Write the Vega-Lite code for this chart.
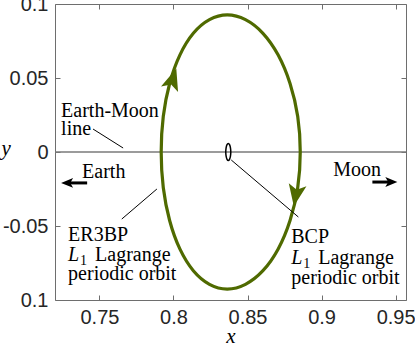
{
  "$schema": "https://vega.github.io/schema/vega-lite/v6.json",
  "width": 351,
  "height": 296,
  "autosize": {"type": "none"},
  "padding": {"left": 55, "top": 4, "right": 9, "bottom": 50},
  "background": "white",
  "config": {
    "view": {"stroke": "#6e6e6e", "strokeWidth": 1},
    "axis": {"grid": false, "domain": false, "tickColor": "#6e6e6e", "tickSize": -5, "tickWidth": 1,
      "labelFont": "Liberation Sans", "labelFontSize": 20, "labelColor": "#262626",
      "titleFont": "Liberation Serif", "titleFontStyle": "italic", "titleFontWeight": "normal", "titleFontSize": 21, "titleColor": "#000000"}
  },
  "datasets": {
    "orbit": [
      {"i": 0, "x": 0.8856, "y": 0}, {"i": 1, "x": 0.8839, "y": 0.0240}, {"i": 2, "x": 0.8787, "y": 0.0463},
      {"i": 3, "x": 0.8707, "y": 0.0655}, {"i": 4, "x": 0.8604, "y": 0.0802}, {"i": 5, "x": 0.8486, "y": 0.0894},
      {"i": 6, "x": 0.8363, "y": 0.0926}, {"i": 7, "x": 0.8243, "y": 0.0894}, {"i": 8, "x": 0.8134, "y": 0.0802},
      {"i": 9, "x": 0.8043, "y": 0.0655}, {"i": 10, "x": 0.7974, "y": 0.0463}, {"i": 11, "x": 0.7931, "y": 0.0240},
      {"i": 12, "x": 0.7917, "y": 0}, {"i": 13, "x": 0.7931, "y": -0.0240}, {"i": 14, "x": 0.7974, "y": -0.0463},
      {"i": 15, "x": 0.8043, "y": -0.0655}, {"i": 16, "x": 0.8134, "y": -0.0802}, {"i": 17, "x": 0.8243, "y": -0.0894},
      {"i": 18, "x": 0.8363, "y": -0.0926}, {"i": 19, "x": 0.8486, "y": -0.0894}, {"i": 20, "x": 0.8604, "y": -0.0802},
      {"i": 21, "x": 0.8707, "y": -0.0655}, {"i": 22, "x": 0.8787, "y": -0.0463}, {"i": 23, "x": 0.8839, "y": -0.0240}
    ],
    "bcp": [
      {"i": 0, "x": 0.8387, "y": 0}, {"i": 1, "x": 0.83847, "y": 0.00285}, {"i": 2, "x": 0.83785, "y": 0.00494},
      {"i": 3, "x": 0.8370, "y": 0.0057}, {"i": 4, "x": 0.83615, "y": 0.00494}, {"i": 5, "x": 0.83553, "y": 0.00285},
      {"i": 6, "x": 0.8353, "y": 0}, {"i": 7, "x": 0.83553, "y": -0.00285}, {"i": 8, "x": 0.83615, "y": -0.00494},
      {"i": 9, "x": 0.8370, "y": -0.0057}, {"i": 10, "x": 0.83785, "y": -0.00494}, {"i": 11, "x": 0.83847, "y": -0.00285}
    ],
    "heads": [
      {"x": 0.7995, "y": 0.0490, "dir": "up"},
      {"x": 0.8826, "y": -0.0290, "dir": "down"},
      {"x": 0.72838, "y": -0.0209, "dir": "left"},
      {"x": 0.94689, "y": -0.0203, "dir": "right"}
    ],
    "shafts": [
      {"x": 0.7275, "x2": 0.7417, "y": -0.0209},
      {"x": 0.9343, "x2": 0.9469, "y": -0.0203}
    ],
    "leaders": [
      {"x": 0.7457, "y": 0.0155, "x2": 0.7660, "y2": 0.0027},
      {"x": 0.7651, "y": -0.0453, "x2": 0.7888, "y2": -0.0250},
      {"x": 0.8390, "y": -0.0054, "x2": 0.8843, "y2": -0.0439}
    ],
    "labels": [
      {"x": 0.72412, "y": 0.02365, "t": "Earth-Moon"},
      {"x": 0.72412, "y": 0.01149, "t": "line"},
      {"x": 0.73831, "y": -0.01757, "t": "Earth"},
      {"x": 0.9079, "y": -0.01622, "t": "Moon"},
      {"x": 0.72885, "y": -0.06014, "t": "ER3BP"},
      {"x": 0.72885, "y": -0.08649, "t": "periodic orbit"},
      {"x": 0.87953, "y": -0.06149, "t": "BCP"},
      {"x": 0.87953, "y": -0.08919, "t": "periodic orbit"}
    ],
    "lrows": [
      {"x": 0.72885, "y": -0.07365},
      {"x": 0.87953, "y": -0.07568}
    ]
  },
  "layer": [
    {
      "data": {"values": [{"y": 0}]},
      "mark": {"type": "rule", "color": "#7a7a7a", "strokeWidth": 1.3},
      "encoding": {"y": {"field": "y", "type": "quantitative", "axis": null, "scale": {"domain": [-0.1, 0.1], "nice": false, "zero": false}}}
    },
    {
      "data": {"name": "bcp"},
      "mark": {"type": "line", "interpolate": "cardinal-closed", "color": "#000000", "strokeWidth": 1.5},
      "encoding": {
        "x": {"field": "x", "type": "quantitative", "axis": null},
        "y": {"field": "y", "type": "quantitative", "axis": null},
        "order": {"field": "i"}
      }
    },
    {
      "data": {"name": "orbit"},
      "mark": {"type": "line", "interpolate": "cardinal-closed", "color": "#4f6a00", "strokeWidth": 3.2},
      "encoding": {
        "x": {"field": "x", "type": "quantitative",
          "scale": {"domain": [0.72, 0.957], "nice": false, "zero": false},
          "axis": {"orient": "bottom", "values": [0.75, 0.8, 0.85, 0.9, 0.95], "labelExpr": "toString(datum.value)", "labelPadding": 12, "title": "x", "titleY": 42, "titleBaseline": "alphabetic"}},
        "y": {"field": "y", "type": "quantitative",
          "scale": {"domain": [-0.1, 0.1], "nice": false, "zero": false},
          "axis": {"orient": "left", "values": [-0.1, -0.05, 0, 0.05, 0.1], "labelExpr": "datum.value == -0.1 ? '0.1' : toString(datum.value)", "labelPadding": 12, "title": "y", "titleAngle": 0, "titleX": -54, "titleY": 150, "titleAlign": "left", "titleBaseline": "alphabetic"}},
        "order": {"field": "i"}
      }
    },
    {
      "data": {"name": "heads"},
      "transform": [{"filter": "datum.dir == 'up'"}],
      "mark": {"type": "point", "shape": "M0,-1L0.78,0.9L0,0.45L-0.78,0.9Z", "size": 529, "angle": 18, "filled": true, "color": "#4f6a00", "opacity": 1, "strokeWidth": 0},
      "encoding": {"x": {"field": "x", "type": "quantitative", "axis": null}, "y": {"field": "y", "type": "quantitative", "axis": null}}
    },
    {
      "data": {"name": "heads"},
      "transform": [{"filter": "datum.dir == 'down'"}],
      "mark": {"type": "point", "shape": "M0,-1L0.78,0.9L0,0.45L-0.78,0.9Z", "size": 529, "angle": 190, "filled": true, "color": "#4f6a00", "opacity": 1, "strokeWidth": 0},
      "encoding": {"x": {"field": "x", "type": "quantitative", "axis": null}, "y": {"field": "y", "type": "quantitative", "axis": null}}
    },
    {
      "data": {"name": "heads"},
      "transform": [{"filter": "datum.dir == 'left'"}],
      "mark": {"type": "point", "shape": "M0,-1L0.78,0.9L0,0.45L-0.78,0.9Z", "size": 160, "angle": 270, "filled": true, "color": "#000000", "opacity": 1, "strokeWidth": 0},
      "encoding": {"x": {"field": "x", "type": "quantitative", "axis": null}, "y": {"field": "y", "type": "quantitative", "axis": null}}
    },
    {
      "data": {"name": "heads"},
      "transform": [{"filter": "datum.dir == 'right'"}],
      "mark": {"type": "point", "shape": "M0,-1L0.78,0.9L0,0.45L-0.78,0.9Z", "size": 160, "angle": 90, "filled": true, "color": "#000000", "opacity": 1, "strokeWidth": 0},
      "encoding": {"x": {"field": "x", "type": "quantitative", "axis": null}, "y": {"field": "y", "type": "quantitative", "axis": null}}
    },
    {
      "data": {"name": "shafts"},
      "mark": {"type": "rule", "color": "#000000", "strokeWidth": 3},
      "encoding": {
        "x": {"field": "x", "type": "quantitative", "axis": null},
        "x2": {"field": "x2"},
        "y": {"field": "y", "type": "quantitative", "axis": null}
      }
    },
    {
      "data": {"name": "leaders"},
      "mark": {"type": "rule", "color": "#000000", "strokeWidth": 1},
      "encoding": {
        "x": {"field": "x", "type": "quantitative",
          "axis": {"orient": "top", "values": [0.75, 0.8, 0.85, 0.9, 0.95], "labels": false, "title": null}},
        "x2": {"field": "x2"},
        "y": {"field": "y", "type": "quantitative",
          "axis": {"orient": "right", "values": [-0.1, -0.05, 0, 0.05, 0.1], "labels": false, "title": null}},
        "y2": {"field": "y2"}
      }
    },
    {
      "data": {"name": "labels"},
      "mark": {"type": "text", "align": "left", "baseline": "alphabetic", "font": "Liberation Serif", "fontSize": 20, "color": "#000000"},
      "encoding": {
        "x": {"field": "x", "type": "quantitative", "axis": null},
        "y": {"field": "y", "type": "quantitative", "axis": null},
        "text": {"field": "t"}
      }
    },
    {
      "data": {"name": "lrows"},
      "mark": {"type": "text", "align": "left", "baseline": "alphabetic", "font": "Liberation Serif", "fontStyle": "italic", "fontSize": 20, "color": "#000000", "text": "L"},
      "encoding": {"x": {"field": "x", "type": "quantitative", "axis": null}, "y": {"field": "y", "type": "quantitative", "axis": null}}
    },
    {
      "data": {"name": "lrows"},
      "mark": {"type": "text", "align": "left", "baseline": "alphabetic", "font": "Liberation Serif", "fontSize": 14, "dx": 12, "dy": 4, "color": "#000000", "text": "1"},
      "encoding": {"x": {"field": "x", "type": "quantitative", "axis": null}, "y": {"field": "y", "type": "quantitative", "axis": null}}
    },
    {
      "data": {"name": "lrows"},
      "mark": {"type": "text", "align": "left", "baseline": "alphabetic", "font": "Liberation Serif", "fontSize": 20, "dx": 27, "color": "#000000", "text": "Lagrange"},
      "encoding": {"x": {"field": "x", "type": "quantitative", "axis": null}, "y": {"field": "y", "type": "quantitative", "axis": null}}
    }
  ],
  "resolve": {"axis": {"x": "independent", "y": "independent"}}
}
